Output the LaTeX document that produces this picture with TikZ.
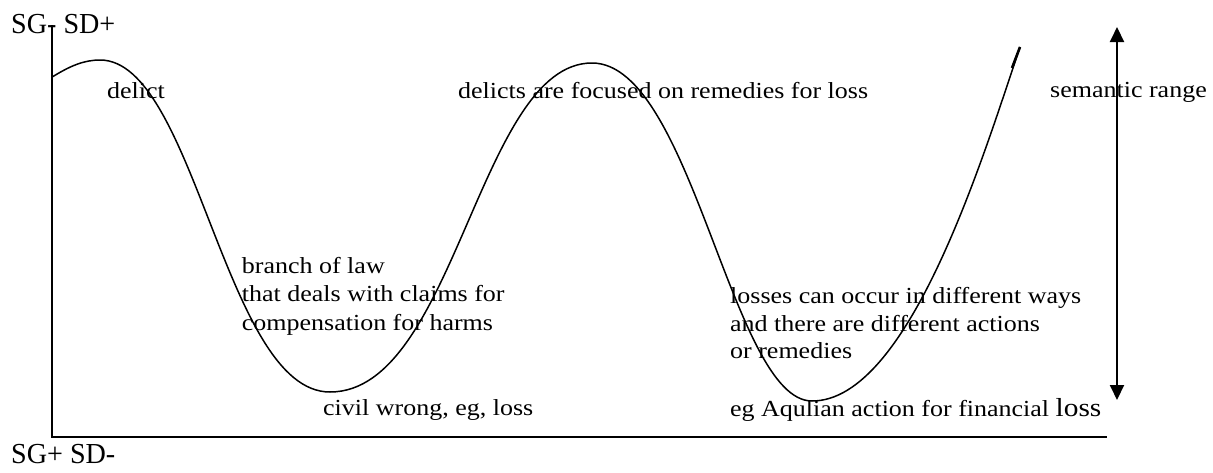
\documentclass[tikz,border=0pt]{standalone}
\usepackage{fontspec}
\setmainfont{Liberation Serif}
\newfontfamily\labfont{Liberation Serif}[FakeStretch=1.13]
\newfontfamily\axfont{Liberation Serif}[FakeStretch=0.97]
\usetikzlibrary{arrows.meta}
\begin{document}
\begin{tikzpicture}[x=1pt,y=-1pt,
  lab/.style={anchor=base west,inner sep=0pt,font=\labfont\fontsize{23}{28}\selectfont},
  axlab/.style={anchor=base west,inner sep=0pt,font=\axfont\fontsize{29}{34}\selectfont},
  axisline/.style={line width=2pt},
  wave/.style={line width=1.5pt},
  rangearrow/.style={line width=2pt,{Triangle[length=15pt,width=14pt]}-{Triangle[length=15pt,width=14pt]}}]
\useasboundingbox (0,0) rectangle (1213,472);
% axes
\coordinate (ytop) at (52,25);
\coordinate (origin) at (52,437);
\coordinate (xend) at (1107,437);
\draw[axisline] (ytop) -- (origin) -- (xend);
% wave
\coordinate (p0) at (52.7,76.7);
\coordinate (pk1) at (100,60);
\coordinate (mn1) at (330,392);
\coordinate (pk2) at (592,63);
\coordinate (mn2) at (812,401);
\coordinate (pend) at (1020,47);
\draw[wave] (p0) .. controls (70,66) and (84,60) .. (pk1)
  .. controls (195,60) and (225,392) .. (mn1)
  .. controls (455,392) and (479,63) .. (pk2)
  .. controls (692,63) and (732,401) .. (mn2)
  .. controls (910,401) and (985,150) .. (pend);
\coordinate (tipa) at (1012,68);
\draw[line width=2.6pt] (tipa) -- (pend);
% range arrow
\coordinate (rbot) at (1117,400);
\coordinate (rtop) at (1117,27);
\draw[rangearrow] (rbot) -- (rtop);
% axis labels
\node[axlab] (sgsdp) at (11,33) {SG- SD+};
\node[axlab] (sgsdm) at (11,463) {SG+ SD-};
% labels
\node[lab] (delict) at (107,98) {delict};
\node[lab] (focus) at (458,98) {delicts are focused on remedies for loss};
\node[lab] (range) at (1050,97) {semantic range};
\node[lab] (br1) at (241.7,273.3) {branch of law};
\node[lab] (br2) at (241.7,301.7) {that deals with claims for};
\node[lab] (br3) at (241.7,330) {compensation for harms};
\node[lab] (civil) at (323,415) {civil wrong, eg, loss};
\node[lab] (ls1) at (730,303.3) {losses can occur in different ways};
\node[lab] (ls2) at (730,331.7) {and there are different actions};
\node[lab] (ls3) at (730,358.3) {or remedies};
\node[lab] (aq) at (730,416) {eg Aqulian action for financial {\fontsize{26}{28}\selectfont loss}};
\end{tikzpicture}
\end{document}
